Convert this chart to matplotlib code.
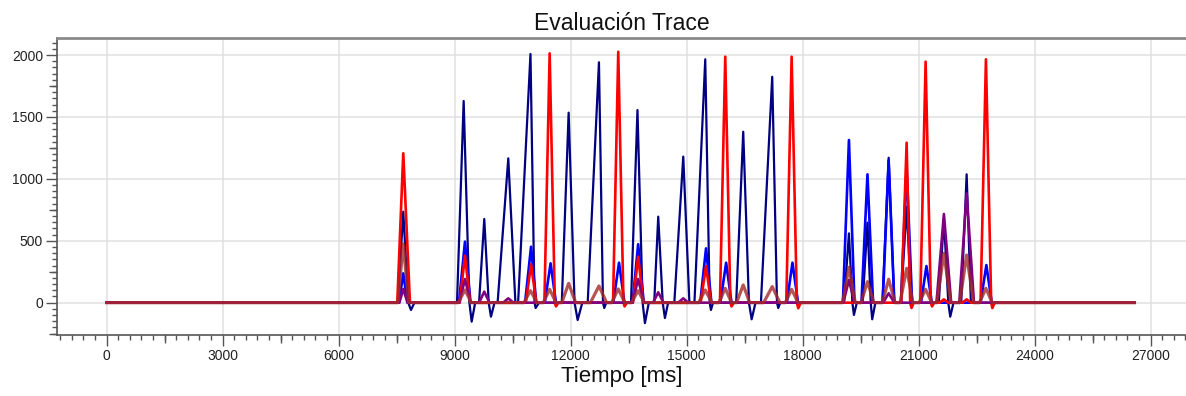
import matplotlib
matplotlib.use("Agg")
import matplotlib.pyplot as plt
from matplotlib.ticker import MultipleLocator

# ---- data (time [ms], value) ----
navy_t = [0, 7530, 7670, 7800, 7869, 7960,
          9060, 9232, 9380, 9439, 9530,
          9630, 9765, 9880, 9938, 10030,
          10110, 10386, 10570,
          10640, 10960, 11065, 11094, 11180,
          11770, 11947, 12100, 12180, 12300,
          12440, 12731, 12835, 12868, 12920,
          13560, 13727, 13860, 13920, 14020,
          14160, 14264, 14380, 14437, 14520,
          14680, 14911, 15070,
          15200, 15480, 15595, 15627, 15680,
          16280, 16462, 16610, 16680, 16780,
          16920, 17212, 17335, 17368, 17420,
          19070, 19196, 19285, 19325, 19400,
          19550, 19675, 19760, 19798, 19880,
          20060, 20223, 20370,
          20540, 20688, 20810,
          21520, 21652, 21765, 21816, 21900,
          22100, 22240, 22350,
          26580]
navy_v = [0, 0, 735, 0, -59, 0,
          0, 1629, 0, -153, 0,
          0, 676, 0, -113, 0,
          0, 1166, 0,
          0, 2009, 0, -43, 0,
          0, 1535, 0, -140, 0,
          0, 1942, 0, -43, 0,
          0, 1556, 0, -165, 0,
          0, 695, 0, -124, 0,
          0, 1180, 0,
          0, 1966, 0, -59, 0,
          0, 1381, 0, -134, 0,
          0, 1825, 0, -43, 0,
          0, 560, 0, -99, 0,
          0, 646, 0, -134, 0,
          0, 1171, 0,
          0, 775, 0,
          0, 680, 0, -113, 0,
          0, 1037, 0,
          0]

blue_t = [0, 7560, 7670, 7780,
          9110, 9266, 9410,
          10820, 10975, 11110,
          11330, 11480, 11620,
          13100, 13250, 13390,
          13600, 13745, 13890,
          15350, 15500, 15640,
          15870, 16020, 16160,
          17590, 17735, 17880,
          19040, 19196, 19340,
          19520, 19675, 19820,
          20070, 20223, 20370,
          20540, 20688, 20830,
          21060, 21200, 21340,
          22600, 22750, 22890,
          26580]
blue_v = [0, 0, 237, 0,
          0, 493, 0,
          0, 452, 0,
          0, 318, 0,
          0, 323, 0,
          0, 472, 0,
          0, 439, 0,
          0, 323, 0,
          0, 323, 0,
          0, 1314, 0,
          0, 1037, 0,
          0, 1150, 0,
          0, 1098, 0,
          0, 296, 0,
          0, 304, 0,
          0]

red_t = [0, 7515, 7670, 7843,
         9130, 9266, 9400,
         10840, 10975, 11110,
         11320, 11456, 11590, 11620, 11680,
         13095, 13230, 13365, 13395, 13450,
         13610, 13745, 13880,
         15360, 15500, 15630,
         15860, 15997, 16130, 16160, 16220,
         17575, 17714, 17850, 17885, 17950,
         20550, 20688, 20780, 20815, 20870,
         21040, 21179, 21315, 21345, 21400,
         21540, 21652, 21760,
         22130, 22240, 22350,
         22600, 22739, 22875, 22905, 22965,
         26580]
red_v = [0, 0, 1207, 0,
         0, 380, 0,
         0, 310, 0,
         0, 2014, 0, -30, 0,
         0, 2027, 0, -30, 0,
         0, 372, 0,
         0, 296, 0,
         0, 1987, 0, -30, 0,
         0, 1987, 0, -45, 0,
         0, 1292, 0, -43, 0,
         0, 1947, 0, -30, 0,
         0, 27, 0,
         0, 27, 0,
         0, 1966, 0, -43, 0,
         0]

purple_t = [0, 7570, 7670, 7780,
            9120, 9266, 9410,
            9630, 9765, 9900,
            10250, 10386, 10520,
            13600, 13745, 13890,
            14130, 14264, 14400,
            14780, 14911, 15040,
            19050, 19196, 19340,
            20080, 20223, 20370,
            21460, 21652, 21840,
            22050, 22240, 22430,
            26580]
purple_v = [0, 0, 111, 0,
            0, 191, 0,
            0, 89, 0,
            0, 35, 0,
            0, 191, 0,
            0, 84, 0,
            0, 35, 0,
            0, 183, 0,
            0, 76, 0,
            0, 716, 0,
            0, 883, 0,
            0]

brown_t = [0, 7530, 7670, 7810,
           9090, 9266, 9430,
           10790, 10960, 11130,
           11290, 11456, 11620,
           11770, 11947, 12130,
           12510, 12731, 12930,
           13060, 13230, 13400,
           13570, 13745, 13910,
           15310, 15480, 15650,
           15830, 15997, 16160,
           16290, 16462, 16630,
           16990, 17212, 17410,
           17550, 17714, 17880,
           19030, 19196, 19360,
           19510, 19675, 19840,
           20060, 20223, 20390,
           20520, 20688, 20850,
           21010, 21179, 21340,
           21470, 21652, 21830,
           22060, 22240, 22420,
           22570, 22739, 22900,
           26580]
brown_v = [0, 0, 474, 0,
           0, 103, 0,
           0, 97, 0,
           0, 108, 0,
           0, 156, 0,
           0, 135, 0,
           0, 111, 0,
           0, 97, 0,
           0, 103, 0,
           0, 116, 0,
           0, 143, 0,
           0, 130, 0,
           0, 108, 0,
           0, 286, 0,
           0, 170, 0,
           0, 189, 0,
           0, 278, 0,
           0, 108, 0,
           0, 399, 0,
           0, 385, 0,
           0, 116, 0,
           0]

title = "Evaluación Trace"
xlabel = "Tiempo [ms]"

plt.rcParams['font.family'] = ['Liberation Sans', 'DejaVu Sans']

fig = plt.figure(figsize=(11.86, 3.96), dpi=100)
ax = fig.add_axes([57 / 1186, 1 - 335 / 396, 1 - 57 / 1186, (335 - 38) / 396])

ax.plot(navy_t, navy_v, color="#000080", lw=1.6, zorder=3)
ax.plot(blue_t, blue_v, color="#0000FF", lw=1.9, zorder=3)
ax.plot(red_t, red_v, color="#FF0000", lw=1.9, zorder=3)
ax.plot(purple_t, purple_v, color="#800080", lw=1.9, zorder=3)
ax.plot(brown_t, brown_v, color="#A52A2A", lw=2.3, alpha=0.8, zorder=3)

ax.set_xlim(-1285, 27913)
ax.set_ylim(-261, 2138)

ax.xaxis.set_major_locator(MultipleLocator(3000))
ax.xaxis.set_minor_locator(MultipleLocator(300))
ax.yaxis.set_major_locator(MultipleLocator(500))
ax.yaxis.set_minor_locator(MultipleLocator(50))

ax.grid(True, which="major", color="#e3e3e3", lw=1.2, zorder=0)
ax.set_axisbelow(True)

ax.spines["right"].set_visible(False)
ax.spines["top"].set_color("#8a8a8a")
ax.spines["top"].set_linewidth(2.0)
for s in ("left", "bottom"):
    ax.spines[s].set_color("#555555")
    ax.spines[s].set_linewidth(1.2)

ax.tick_params(which="major", length=8, width=1.0, color="#555555",
               labelsize=10, labelcolor="#222222", pad=2)
ax.tick_params(which="minor", length=3.5, width=1.0, color="#555555")

# mid-level ticks
secx = ax.secondary_xaxis("bottom")
secx.set_xticks(list(range(-1500, 28000, 3000)))
secx.tick_params(length=5.5, width=1.0, color="#555555", labelbottom=False)
secx.spines["bottom"].set_visible(False)
secy = ax.secondary_yaxis("left")
secy.set_yticks([-250, 250, 750, 1250, 1750])
secy.tick_params(length=5.5, width=1.0, color="#555555", labelleft=False)
secy.spines["left"].set_visible(False)

ax.set_title(title, fontsize=16.5, pad=6, color="#111111")
ax.set_xlabel(xlabel, fontsize=16, labelpad=2, color="#111111")

fig.savefig("out.png", dpi=100)
